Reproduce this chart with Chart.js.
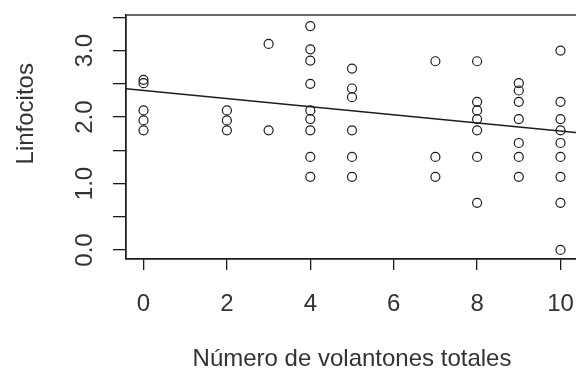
<!DOCTYPE html>
<html>
<head>
<meta charset="utf-8">
<script src="https://cdn.jsdelivr.net/npm/chart.js@4/dist/chart.umd.min.js"></script>
<style>
  html, body { margin: 0; padding: 0; overflow: hidden; background: #fff; }
  canvas { display: block; }
</style>
</head>
<body>
<canvas id="c" width="600" height="376"></canvas>
<script>
// Observations: number of fledglings (x) and lymphocyte value (y)
const volantones = [
  0, 0, 0, 0, 0,
  2, 2, 2,
  3, 3,
  4, 4, 4, 4, 4, 4, 4, 4, 4,
  5, 5, 5, 5, 5, 5,
  7, 7, 7,
  8, 8, 8, 8, 8, 8, 8,
  9, 9, 9, 9, 9, 9, 9,
  10, 10, 10, 10, 10, 10, 10, 10, 10
];
const linfocitos = [
  2.56, 2.51, 2.10, 1.95, 1.80,
  2.10, 1.95, 1.80,
  3.10, 1.80,
  3.37, 3.02, 2.85, 2.50, 2.10, 1.97, 1.80, 1.40, 1.10,
  2.73, 2.43, 2.30, 1.80, 1.40, 1.10,
  2.84, 1.40, 1.10,
  2.84, 2.23, 2.10, 1.97, 1.80, 1.40, 0.71,
  2.51, 2.40, 2.23, 1.97, 1.61, 1.40, 1.10,
  3.00, 2.23, 1.97, 1.80, 1.61, 1.40, 1.10, 0.71, 0.00
];

// Linear fit coefficients (abline)
const fitIntercept = 2.40;
const fitSlope = -0.061;

// Axis settings
const xRange = [-0.42, 10.42];
const yRange = [-0.136, 3.536];
const yLabelValues = [0, 1, 2, 3];
const yLabelTexts = ['0.0', '1.0', '2.0', '3.0'];
const yTitle = 'Linfocitos';

const FONT = "'Liberation Sans', Arial, sans-serif";
const INK = '#1c1c1c';
const TEXT = '#333333';

const points = volantones.map((x, i) => ({ x: x, y: linfocitos[i] }));
const fitLine = xRange.map(x => ({ x: x, y: fitIntercept + fitSlope * x }));

// Frame around the plot region, rotated y tick labels and the y title
const frameAndLabels = {
  id: 'frameAndLabels',
  afterDraw(chart) {
    const { ctx, chartArea: a } = chart;
    ctx.save();
    ctx.strokeStyle = INK;
    ctx.lineWidth = 1.3;
    ctx.strokeRect(a.left, a.top, a.right - a.left, a.bottom - a.top);

    const ys = chart.scales.y;
    ctx.fillStyle = TEXT;
    ctx.font = '24px ' + FONT;
    ctx.textAlign = 'center';
    ctx.textBaseline = 'alphabetic';
    yLabelValues.forEach((v, i) => {
      const py = ys.getPixelForValue(v);
      ctx.save();
      ctx.translate(92, py);
      ctx.rotate(-Math.PI / 2);
      ctx.fillText(yLabelTexts[i], 0, 0);
      ctx.restore();
    });

    ctx.save();
    ctx.translate(33, ys.getPixelForValue(2.05));
    ctx.rotate(-Math.PI / 2);
    ctx.fillText(yTitle, 0, 0);
    ctx.restore();
    ctx.restore();
  }
};

new Chart(document.getElementById('c'), {
  type: 'scatter',
  data: {
    datasets: [
      {
        type: 'scatter',
        data: points,
        pointStyle: 'circle',
        pointRadius: 4.5,
        pointBorderWidth: 1.2,
        borderColor: INK,
        backgroundColor: 'rgba(0,0,0,0)',
        order: 2
      },
      {
        type: 'line',
        data: fitLine,
        borderColor: INK,
        borderWidth: 1.5,
        pointRadius: 0,
        fill: false,
        order: 1
      }
    ]
  },
  options: {
    responsive: false,
    animation: false,
    devicePixelRatio: 1,
    events: [],
    layout: { padding: { top: 15, right: 22, bottom: 0, left: 0 } },
    plugins: {
      legend: { display: false },
      tooltip: { enabled: false }
    },
    scales: {
      x: {
        type: 'linear',
        min: xRange[0],
        max: xRange[1],
        afterFit(scale) { scale.height = 117; },
        ticks: {
          stepSize: 2,
          includeBounds: false,
          color: TEXT,
          font: { family: FONT, size: 24 },
          padding: 20,
          maxRotation: 0
        },
        grid: {
          drawOnChartArea: false,
          drawTicks: true,
          tickLength: 11,
          color: INK,
          lineWidth: 1.3
        },
        border: { display: true, color: INK, width: 1.3 },
        title: {
          display: true,
          text: 'Número de volantones totales',
          color: TEXT,
          font: { family: FONT, size: 24 },
          padding: { top: 0, bottom: 2 }
        }
      },
      y: {
        type: 'linear',
        min: yRange[0],
        max: yRange[1],
        afterFit(scale) { scale.width = 126; },
        ticks: {
          stepSize: 0.5,
          includeBounds: false,
          display: false
        },
        grid: {
          drawOnChartArea: false,
          drawTicks: true,
          tickLength: 13,
          color: INK,
          lineWidth: 1.3
        },
        border: { display: true, color: INK, width: 1.3 }
      }
    }
  },
  plugins: [frameAndLabels]
});
</script>
</body>
</html>
